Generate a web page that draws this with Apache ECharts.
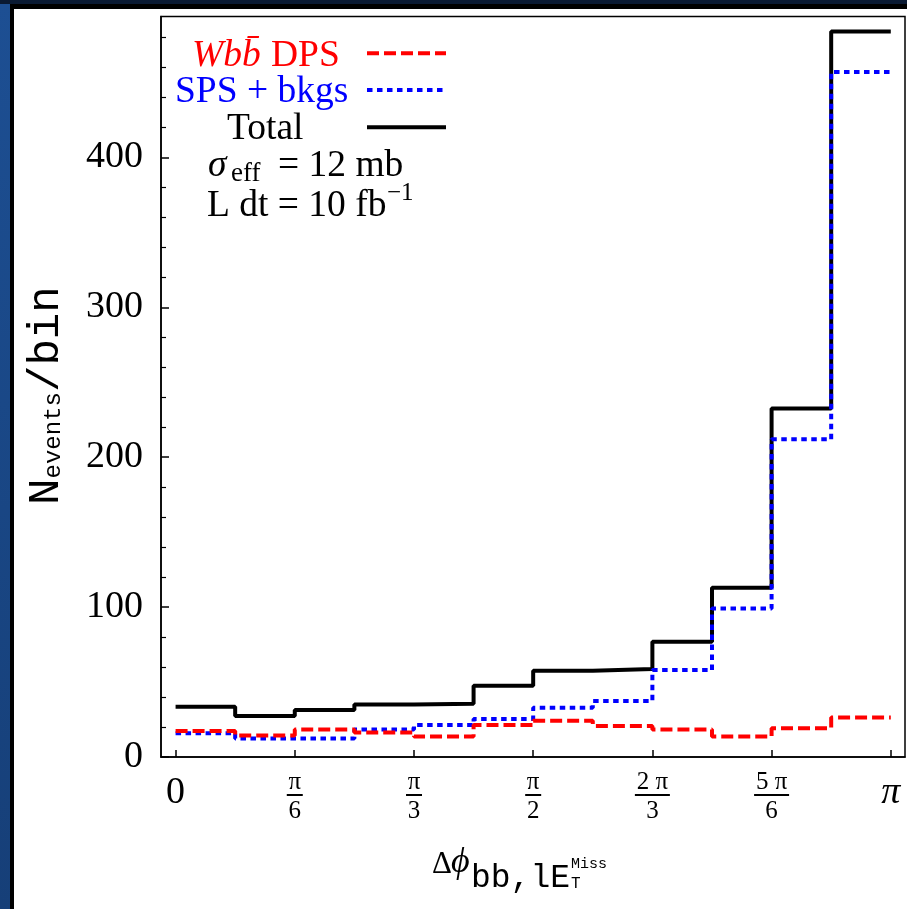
<!DOCTYPE html>
<html><head><meta charset="utf-8">
<script src="https://cdn.jsdelivr.net/npm/echarts@6/dist/echarts.min.js"></script>
<style>
html,body{margin:0;padding:0;background:#0a1a33;width:907px;height:909px;overflow:hidden}
#strip{position:absolute;left:0;top:4px;width:10px;height:905px;background:linear-gradient(#1d4f93,#163f78)}
#frame{position:absolute;left:10px;top:4px;width:897px;height:905px;background:#000}
#panel{position:absolute;left:14px;top:9px;width:893px;height:900px;background:#fff}
#chart{position:absolute;left:0;top:0;width:907px;height:909px}
</style></head>
<body><div id="strip"></div><div id="frame"></div><div id="panel"></div><div id="chart"></div>
<script>
// ---- data (12 bins of width pi/12 from 0 to pi) ----
const binCount = 12;
const dpsValues   = [17.3, 14.4, 18.4, 16.4, 13.6, 21.3, 24.2, 20.7, 18.4, 13.6, 19.1, 26.4];
const spsValues   = [15.8, 12.4, 12.4, 18.4, 21.3, 25.3, 32.9, 37.3, 58.0, 99.1, 212.0, 457.0];
const totalValues = [33.5, 27.3, 31.3, 35.0, 35.5, 47.5, 57.5, 58.7, 76.9, 112.9, 232.5, 484.0];
const xTickLabels = ['0', 'π/6', 'π/3', 'π/2', '2 π/3', '5 π/6', 'π'];
const yTickLabels = [0, 100, 200, 300, 400];
const yMinorTicks = [20, 40, 60, 80, 120, 140, 160, 180, 220, 240, 260, 280, 320, 340, 360, 380, 420, 440, 460, 480];

const binWidth = Math.PI / binCount;
const xTickValues = xTickLabels.map((_, i) => i * Math.PI / 6);
function stepData(vals) {
  const pts = vals.map((v, i) => [i * binWidth, v]);
  pts.push([binCount * binWidth, vals[vals.length - 1]]);
  return pts;
}
const SERIF = '"Liberation Serif", "Times New Roman", serif';
const MONO = '"Liberation Mono", "DejaVu Sans Mono", monospace';

function fmtX(v) {
  const idx = Math.round(v / (Math.PI / 6));
  const lab = xTickLabels[idx];
  if (lab === undefined) return '';
  if (lab === '0') return '{z|0}';
  if (lab === 'π') return '{p|π}';
  const parts = lab.split('/');
  const wide = parts[0].length > 1;
  return '{n|' + parts[0] + '}\n{' + (wide ? 'bw' : 'bn') + '| }\n{d|' + parts[1] + '}';
}

const chart = echarts.init(document.getElementById('chart'), null, {renderer: 'canvas'});
const option = {
  animation: false,
  backgroundColor: 'transparent',
  grid: {left: 161, right: 2, top: 16.5, bottom: 152, show: true, borderColor: '#000', borderWidth: 1.5, outerBoundsMode: 'none'},
  xAxis: {
    type: 'value', min: -0.064, max: 3.204,
    axisLine: {show: true, onZero: false, lineStyle: {color: '#000', width: 1.5}},
    axisTick: {show: true, inside: true, length: 7, customValues: xTickValues, lineStyle: {color: '#000', width: 1.5}},
    splitLine: {show: false},
    axisLabel: {
      customValues: xTickValues, margin: 16, formatter: fmtX, color: '#000',
      rich: {
        z: {fontFamily: SERIF, fontSize: 38, lineHeight: 40, align: 'center', color: '#000'},
        p: {fontFamily: SERIF, fontSize: 38, fontStyle: 'italic', lineHeight: 40, align: 'center', color: '#000'},
        n: {fontFamily: SERIF, fontSize: 25, lineHeight: 18, align: 'center', color: '#000'},
        d: {fontFamily: SERIF, fontSize: 25, lineHeight: 24, align: 'center', color: '#000'},
        bn: {width: 16, height: 2, lineHeight: 8, backgroundColor: '#000', align: 'center', fontSize: 2},
        bw: {width: 35, height: 2, lineHeight: 8, backgroundColor: '#000', align: 'center', fontSize: 2}
      }
    }
  },
  yAxis: [{
    type: 'value', min: 0, max: 494, position: 'left',
    axisLine: {show: true, onZero: false, lineStyle: {color: '#000', width: 1.5}},
    axisTick: {show: true, inside: true, length: 8, customValues: yTickLabels, lineStyle: {color: '#000', width: 1.5}},
    splitLine: {show: false},
    axisLabel: {customValues: yTickLabels, margin: 18, fontFamily: SERIF, fontSize: 38, color: '#000'}
  }, {
    type: 'value', min: 0, max: 494, position: 'left',
    axisLine: {show: false, onZero: false},
    axisTick: {show: true, inside: true, length: 5, customValues: yMinorTicks, lineStyle: {color: '#000', width: 1.2}},
    splitLine: {show: false},
    axisLabel: {show: false}
  }],
  series: [
    {name: 'Total', type: 'line', step: 'end', data: stepData(totalValues), showSymbol: false, symbol: 'none', z: 2,
      lineStyle: {color: '#000', width: 4, type: 'solid'}},
    {name: 'SPS + bkgs', type: 'line', step: 'end', data: stepData(spsValues), showSymbol: false, symbol: 'none', z: 3,
      lineStyle: {color: '#0000ff', width: 4, type: [5.5, 4.5]}},
    {name: 'Wbb DPS', type: 'line', step: 'end', data: stepData(dpsValues), showSymbol: false, symbol: 'none', z: 4,
      lineStyle: {color: '#ff0000', width: 4, type: [12, 5]}}
  ],
  graphic: [
    // legend / key
    {type: 'text', left: 192, top: 37, style: {text: 'Wbb\u0304', font: 'italic 37.5px ' + SERIF, fill: '#ff0000'}},
    {type: 'text', left: 271, top: 37, style: {text: 'DPS', font: '37.5px ' + SERIF, fill: '#ff0000'}},
    {type: 'line', shape: {x1: 367, y1: 53.3, x2: 446, y2: 53.3}, style: {stroke: '#ff0000', lineWidth: 4, lineDash: [12, 5]}},
    {type: 'text', left: 175, top: 73, style: {text: 'SPS + bkgs', font: '37.5px ' + SERIF, fill: '#0000ff'}},
    {type: 'line', shape: {x1: 367, y1: 90, x2: 446, y2: 90}, style: {stroke: '#0000ff', lineWidth: 4, lineDash: [5.5, 4.5]}},
    {type: 'text', left: 227, top: 110, style: {text: 'Total', font: '37.5px ' + SERIF, fill: '#000'}},
    {type: 'line', shape: {x1: 367, y1: 127.3, x2: 446, y2: 127.3}, style: {stroke: '#000', lineWidth: 4}},
    {type: 'text', left: 208, top: 147, style: {text: 'σ', font: 'italic 37.5px ' + SERIF, fill: '#000'}},
    {type: 'text', left: 231, top: 160, style: {text: 'eff', font: '27px ' + SERIF, fill: '#000'}},
    {type: 'text', left: 278, top: 147, style: {text: '= 12 mb', font: '37.5px ' + SERIF, fill: '#000'}},
    {type: 'text', left: 207, top: 187, style: {text: 'L dt = 10 fb', font: '37.5px ' + SERIF, fill: '#000'}},
    {type: 'text', left: 387, top: 181, style: {text: '\u22121', font: '25px ' + SERIF, fill: '#000'}},
    // y axis title (rotated)
    {type: 'group', x: 46, y: 505, rotation: Math.PI / 2, children: [
      {type: 'text', x: 0, y: 0, style: {text: 'N', font: '44px ' + MONO, fill: '#000', verticalAlign: 'middle', align: 'left'}},
      {type: 'text', x: 26.5, y: 8, style: {text: 'events', font: '24px ' + MONO, fill: '#000', verticalAlign: 'middle', align: 'left'}},
      {type: 'text', x: 113, y: 0, style: {text: '/bin', font: '44px ' + MONO, fill: '#000', verticalAlign: 'middle', align: 'left'}}
    ]},
    // x axis title
    {type: 'text', left: 432, top: 849, style: {text: '\u0394', font: '31px ' + SERIF, fill: '#000'}},
    {type: 'text', left: 451, top: 845, style: {text: '\u03d5', font: 'italic 36px ' + SERIF, fill: '#000'}},
    {type: 'text', left: 471, top: 862, style: {text: 'bb,lE', font: '33px ' + MONO, fill: '#000'}},
    {type: 'text', left: 571, top: 857, style: {text: 'Miss', font: '15px ' + MONO, fill: '#000'}},
    {type: 'text', left: 571, top: 876, style: {text: 'T', font: '16px ' + MONO, fill: '#000'}}
  ]
};
chart.setOption(option);
</script>
</body></html>
